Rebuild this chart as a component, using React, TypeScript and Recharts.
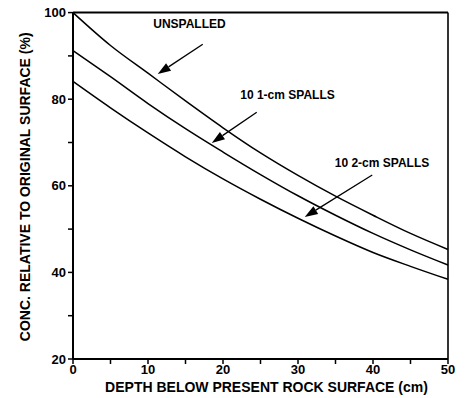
import React from 'react';
import {
  LineChart,
  Line,
  XAxis,
  YAxis,
  ReferenceLine,
  ReferenceDot,
} from 'recharts';

// depth below present rock surface (cm)
const depth = [0, 5, 10, 15, 20, 25, 30, 35, 40, 45, 50];
// concentration relative to original surface (%)
const unspalled = [100, 92.4, 86.0, 79.6, 73.4, 67.6, 62.4, 57.6, 53.2, 49.0, 45.3];
const spalls1cm = [91.2, 85.2, 79.0, 73.2, 67.8, 62.6, 57.7, 53.2, 49.0, 45.2, 41.7];
const spalls2cm = [84.1, 78.0, 72.2, 66.7, 61.6, 56.9, 52.5, 48.4, 44.6, 41.4, 38.4];

const xTicks = [0, 5, 10, 15, 20, 25, 30, 35, 40, 45, 50];
const yTicks = [20, 30, 40, 50, 60, 70, 80, 90, 100];

// callouts: label anchor and arrow (data units)
const notes = [
  { text: 'UNSPALLED', tx: 10.7, ty: 97.4, fx: 17.3, fy: 92.7, ax: 11.3, ay: 85.8 },
  { text: '10 1-cm SPALLS', tx: 22.3, ty: 81.0, fx: 24.5, fy: 77.0, ax: 18.5, ay: 69.9 },
  { text: '10 2-cm SPALLS', tx: 34.9, ty: 65.3, fx: 39.9, fy: 62.5, ax: 30.9, ay: 52.8 },
];

const data = depth.map((d, i) => ({
  depth: d,
  unspalled: unspalled[i],
  spalls1cm: spalls1cm[i],
  spalls2cm: spalls2cm[i],
}));

const FONT = '"Liberation Sans", Arial, sans-serif';

const Arrow = (props: any) => {
  const { x1, y1, x2, y2 } = props;
  const a = Math.atan2(y2 - y1, x2 - x1);
  const len = 13;
  const half = 4.5;
  const bx = x2 - len * Math.cos(a);
  const by = y2 - len * Math.sin(a);
  const pts = [
    `${x2},${y2}`,
    `${bx + half * Math.sin(a)},${by - half * Math.cos(a)}`,
    `${bx - half * Math.sin(a)},${by + half * Math.cos(a)}`,
  ].join(' ');
  return (
    <g>
      <line x1={x1} y1={y1} x2={bx} y2={by} stroke="#000" strokeWidth={1.3} />
      <polygon points={pts} fill="#000" />
    </g>
  );
};

const YTitle = (props: any) => {
  const vb = props.viewBox;
  const cx = 25;
  const cy = vb.y + vb.height / 2 + 1;
  return (
    <text
      x={cx}
      y={cy}
      transform={`rotate(-90 ${cx} ${cy})`}
      textAnchor="middle"
      dominantBaseline="central"
      fontSize={14}
      fontWeight={700}
      fontFamily={FONT}
      fill="#000"
    >
      CONC. RELATIVE TO ORIGINAL SURFACE (%)
    </text>
  );
};

const XTitle = (props: any) => {
  const vb = props.viewBox;
  return (
    <text
      x={vb.x + vb.width / 2 + 6}
      y={392}
      textAnchor="middle"
      fontSize={14}
      fontWeight={700}
      fontFamily={FONT}
      fill="#000"
    >
      DEPTH BELOW PRESENT ROCK SURFACE (cm)
    </text>
  );
};

const tickStyle = { fill: '#000', fontSize: 13, fontWeight: 700, fontFamily: FONT };

export default function App() {
  return (
    <div style={{ position: 'absolute', left: 0, top: 0, background: '#fff' }}>
      <LineChart
        width={469}
        height={398}
        data={data}
        margin={{ top: 12.6, right: 21, bottom: 0, left: 0 }}
        style={{ fontFamily: FONT }}
      >
        <XAxis
          dataKey="depth"
          type="number"
          domain={[0, 50]}
          ticks={xTicks}
          interval={0}
          height={39}
          tickSize={5}
          tickMargin={1}
          tick={tickStyle}
          tickFormatter={(v: number) => (v % 10 === 0 ? String(v) : '')}
          axisLine={{ stroke: '#000', strokeWidth: 2 }}
          tickLine={{ stroke: '#000', strokeWidth: 1.5 }}
          label={{ content: XTitle }}
        />
        <YAxis
          type="number"
          domain={[20, 100]}
          ticks={yTicks}
          interval={0}
          width={73}
          tickSize={5}
          tickMargin={2}
          tick={tickStyle}
          tickFormatter={(v: number) => (v % 20 === 0 ? String(v) : '')}
          axisLine={{ stroke: '#000', strokeWidth: 2 }}
          tickLine={{ stroke: '#000', strokeWidth: 1.5 }}
          label={{ content: YTitle }}
        />
        <ReferenceLine y={100} stroke="#000" strokeWidth={2} />
        <ReferenceLine x={50} stroke="#000" strokeWidth={1.6} />
        <Line type="monotone" dataKey="unspalled" stroke="#000" strokeWidth={1.5} dot={false} isAnimationActive={false} />
        <Line type="monotone" dataKey="spalls1cm" stroke="#000" strokeWidth={1.5} dot={false} isAnimationActive={false} />
        <Line type="monotone" dataKey="spalls2cm" stroke="#000" strokeWidth={1.5} dot={false} isAnimationActive={false} />
        {notes.map((n) => (
          <ReferenceLine
            key={'a' + n.text}
            segment={[
              { x: n.fx, y: n.fy },
              { x: n.ax, y: n.ay },
            ]}
            shape={Arrow}
          />
        ))}
        {notes.map((n) => (
          <ReferenceDot
            key={'t' + n.text}
            x={n.tx}
            y={n.ty}
            r={0}
            fill="none"
            stroke="none"
            label={{
              value: n.text,
              position: 'right',
              offset: 0,
              fill: '#000',
              fontSize: 12,
              fontWeight: 700,
              fontFamily: FONT,
            }}
          />
        ))}
      </LineChart>
    </div>
  );
}
